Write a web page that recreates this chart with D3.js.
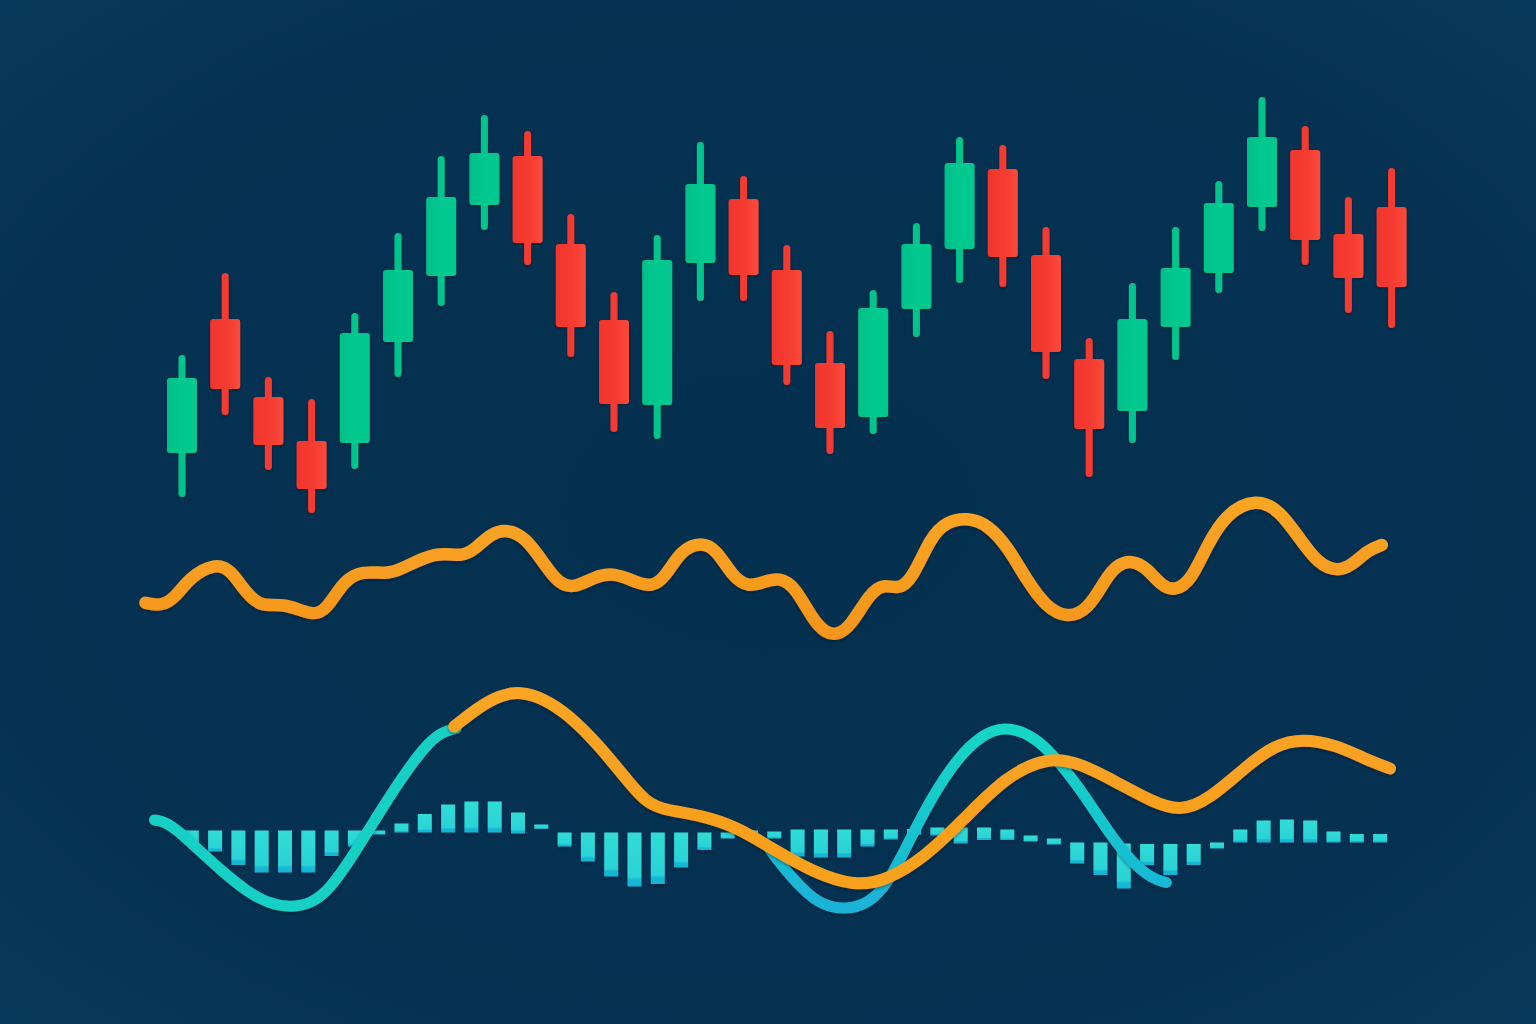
<!DOCTYPE html>
<html>
<head>
<meta charset="utf-8">
<script src="https://cdn.jsdelivr.net/npm/d3@7"></script>
<style>
  html, body { margin: 0; padding: 0; background: #05304f; }
  svg { display: block; }
</style>
</head>
<body>
<svg id="chart" width="1536" height="1024"></svg>
<script>
// ---------- DATA ----------
// Candles: open, high, low, close (price units)
const candleOpen  = [114.7,128.1,120.3,115.9,115.7,125.8,132.4,139.5,144.4,135.6,128.0,119.5,133.7,140.1,133.0,123.7,118.3,129.1,135.1,143.1,134.5,124.1,118.9,127.3,132.7,139.3,145.0,136.6,139.3];
const candleHigh  = [124.5,132.7,122.3,120.1,128.7,136.7,144.4,148.5,146.9,138.6,130.8,136.5,145.8,142.4,135.5,126.9,131.0,137.7,146.3,145.5,137.3,126.2,131.7,137.3,141.9,150.3,147.4,140.3,143.2];
const candleLow   = [110.3,118.5,113.0,108.7,113.1,122.3,129.4,137.0,133.5,124.3,116.8,116.1,129.9,129.9,121.5,114.6,116.6,126.3,131.7,131.3,122.1,112.3,115.7,124.0,130.7,136.9,133.5,128.7,127.2];
const candleClose = [122.2,121.1,115.5,111.1,126.7,133.0,140.3,144.7,135.7,127.3,119.6,134.0,141.6,132.5,123.5,117.2,129.2,135.6,143.7,134.3,124.8,117.1,128.1,133.2,139.7,146.3,136.0,132.2,131.3];

// Oscillator (session position, value 0-100)
const oscT = [-0.87,-0.50,-0.19,0.17,0.74,1.10,1.46,1.82,2.34,3.01,3.32,3.73,4.15,4.72,5.03,5.85,6.47,6.78,7.14,7.50,7.92,8.38,8.69,9.06,9.52,9.99,10.45,10.86,11.17,11.53,12.00,12.36,12.72,13.09,13.45,13.81,14.17,14.58,14.89,15.14,15.45,15.90,16.21,16.56,16.87,17.31,17.67,18.16,18.64,19.09,19.53,19.97,20.46,20.95,21.34,21.61,21.97,22.32,22.67,22.98,23.34,23.69,24.14,24.85,25.38,25.87,26.27,26.71,27.07,27.43,27.75];
const oscV = [31.8,30.0,34.3,46.3,53.7,50.4,37.1,29.3,31.8,24.4,27.8,44.4,49.6,47.8,50.0,60.7,57.1,62.1,70.4,72.6,68.5,52.8,42.6,39.8,46.3,48.5,43.5,40.4,46.3,61.1,65.7,61.1,46.3,40.4,43.5,45.9,40.7,22.2,14.8,13.9,18.5,37.1,42.2,39.3,44.4,68.5,76.8,79.3,75.0,62.9,44.4,29.6,23.2,27.8,44.4,52.8,55.6,50.9,40.7,38.5,44.4,62.9,81.5,89.8,83.3,66.7,53.7,49.1,52.8,61.1,63.9];

// MACD line (two visible stretches)
const macdT1 = [-0.66,-0.42,-0.09,0.33,0.91,1.48,1.98,2.48,2.97,3.39,3.97,4.63,5.21,5.70,6.03,6.32];
const macdV1 = [0.30,0.27,0.07,-0.27,-0.73,-1.13,-1.37,-1.45,-1.37,-1.10,-0.37,0.57,1.33,1.87,2.07,2.13];
const macdT2 = [13.55,13.80,14.35,14.78,15.33,15.88,16.31,16.75,17.29,17.95,18.50,18.99,19.59,20.13,20.79,21.44,21.99,22.43,22.76];
const macdV2 = [-0.24,-0.55,-1.10,-1.40,-1.50,-1.37,-0.97,-0.23,0.70,1.57,2.00,2.17,2.03,1.63,0.90,0.03,-0.57,-0.87,-0.95];

// Signal line
const signalT = [6.28,6.86,7.35,7.81,8.35,8.93,9.59,10.25,10.74,11.16,11.97,12.81,13.69,14.56,15.55,16.31,17.19,18.06,19.04,20.03,20.79,21.66,22.43,23.08,23.74,24.61,25.27,25.92,26.69,27.34,27.94];
const signalV = [2.17,2.57,2.80,2.87,2.73,2.40,1.83,1.13,0.63,0.50,0.40,0.17,-0.30,-0.73,-1.03,-0.90,-0.43,0.30,1.17,1.57,1.43,1.03,0.67,0.47,0.70,1.37,1.80,1.93,1.80,1.53,1.33];

// Histogram bars (upper and lower ends)
const histHigh = [0.09,0.09,0.09,0.09,0.09,0.09,0.09,0.09,0.09,0.23,0.42,0.61,0.67,0.67,0.45,0.21,0.05,0.05,0.05,0.05,0.05,0.05,0.05,0.05,0.09,0.07,0.11,0.11,0.11,0.11,0.11,0.12,0.15,0.15,0.15,0.11,-0.01,-0.07,-0.15,-0.15,-0.17,-0.18,-0.18,-0.18,-0.15,0.11,0.29,0.31,0.29,0.07,0.02,0.02];
const histLow  = [-0.20,-0.33,-0.60,-0.75,-0.75,-0.75,-0.42,-0.23,0.01,0.05,0.05,0.05,0.05,0.05,0.03,0.12,-0.23,-0.53,-0.83,-1.03,-0.98,-0.65,-0.30,-0.07,0.02,-0.07,-0.43,-0.45,-0.45,-0.23,-0.09,0.00,-0.01,-0.17,-0.10,-0.10,-0.13,-0.19,-0.57,-0.80,-1.07,-0.60,-0.80,-0.60,-0.27,-0.15,-0.15,-0.15,-0.15,-0.15,-0.15,-0.15];

// ---------- CHART ----------
const W = 1536, H = 1024;
const svg = d3.select("#chart");
const defs = svg.append("defs");

// background vignette
const bg = defs.append("radialGradient").attr("id","bg").attr("cx","50%").attr("cy","50%").attr("r","75%");
bg.append("stop").attr("offset","0%").attr("stop-color","#04304f");
bg.append("stop").attr("offset","70%").attr("stop-color","#053252");
bg.append("stop").attr("offset","100%").attr("stop-color","#0a3a5e");
svg.append("rect").attr("width",W).attr("height",H).attr("fill","url(#bg)");

function hGrad(id, stops) {
  const g = defs.append("linearGradient").attr("id", id).attr("x1","0").attr("x2","1").attr("y1","0").attr("y2","0");
  stops.forEach(s => g.append("stop").attr("offset", s[0]).attr("stop-color", s[1]));
}
hGrad("greenG", [["0%","#00c088"],["50%","#00c990"],["100%","#02c88f"]]);
hGrad("redG",   [["0%","#f2352d"],["55%","#f43b31"],["100%","#fb4a3a"]]);

const barG = defs.append("linearGradient").attr("id","barG").attr("x1","0").attr("x2","0").attr("y1","0").attr("y2","1");
[["0%","#30dcd6"],["82%","#2ad3d6"],["88%","#17b7d6"],["100%","#16b2d4"]].forEach(s => barG.append("stop").attr("offset",s[0]).attr("stop-color",s[1]));

function vGradUser(id, y1, y2, stops) {
  const g = defs.append("linearGradient").attr("id", id).attr("gradientUnits","userSpaceOnUse")
    .attr("x1",0).attr("x2",0).attr("y1",y1).attr("y2",y2);
  stops.forEach(s => g.append("stop").attr("offset", s[0]).attr("stop-color", s[1]));
}
vGradUser("oscG", 495, 640, [["0%","#fba623"],["100%","#f4951d"]]);
vGradUser("tealB", 725, 910, [["0%","#17d6c6"],["45%","#18c9cc"],["100%","#1ab2d8"]]);
vGradUser("sigG", 690, 890, [["0%","#fba523"],["60%","#f89f1f"],["100%","#f8a21f"]]);

const sh = defs.append("filter").attr("id","shadow").attr("x","-10%").attr("y","-10%").attr("width","120%").attr("height","130%");
sh.append("feDropShadow").attr("dx",0).attr("dy",1.5).attr("stdDeviation",1.5).attr("flood-color","#001528").attr("flood-opacity",0.45);

// Scales
const x = d3.scaleLinear().domain([0, 28]).range([182, 1391.6]);
const yPrice = d3.scaleLinear().domain([110, 150]).range([500, 100]);
const yOsc = d3.scaleLinear().domain([0, 100]).range([660, 480]);
const yMacd = d3.scaleLinear().domain([-2, 2]).range([935, 735]);
const xBar = d3.scaleBand().domain(d3.range(histHigh.length)).range([180.15, 1391.75]).paddingInner(0.4).paddingOuter(0.2);
const xl = d3.scaleLinear().domain([0, 28]).range([183, 1392.6]); // line/time positions

// Candles
const candles = candleOpen.map((o, i) => ({i, o, h: candleHigh[i], l: candleLow[i], c: candleClose[i]}));
const bodyW = 30, wickW = 7;
const cg = svg.append("g").attr("filter","url(#shadow)");
const cands = cg.selectAll("g.candle").data(candles).join("g").attr("class","candle");
cands.append("rect")
  .attr("x", d => x(d.i) - wickW/2).attr("width", wickW)
  .attr("y", d => yPrice(d.h)).attr("height", d => yPrice(d.l) - yPrice(d.h))
  .attr("rx", 3.5)
  .attr("fill", d => d.c >= d.o ? "#01c48c" : "#f33a30");
cands.append("rect")
  .attr("x", d => x(d.i) - bodyW/2).attr("width", bodyW)
  .attr("y", d => yPrice(Math.max(d.o, d.c))).attr("height", d => Math.abs(yPrice(d.o) - yPrice(d.c)))
  .attr("rx", 3)
  .attr("fill", d => d.c >= d.o ? "url(#greenG)" : "url(#redG)");

// Oscillator line
const curve = d3.curveBasis;
const oscLine = d3.line().x(d => xl(d[0])).y(d => yOsc(d[1])).curve(curve);
svg.append("path").datum(oscT.map((t, i) => [t, oscV[i]]))
  .attr("d", oscLine).attr("fill","none").attr("stroke","url(#oscG)")
  .attr("stroke-width", 12.5).attr("stroke-linecap","round").attr("stroke-linejoin","round")
  .attr("filter","url(#shadow)");

// Histogram
svg.append("g").selectAll("rect").data(histHigh.map((h, k) => ({k, h, l: histLow[k]}))).join("rect")
  .attr("x", d => xBar(d.k)).attr("width", xBar.bandwidth())
  .attr("y", d => yMacd(d.h)).attr("height", d => Math.max(3, yMacd(d.l) - yMacd(d.h)))
  .attr("fill","url(#barG)").attr("filter","url(#shadow)");

// MACD & signal lines
const mLine = d3.line().x(d => xl(d[0])).y(d => yMacd(d[1])).curve(curve);
svg.append("path").datum(macdT1.map((t, i) => [t, macdV1[i]]))
  .attr("d", mLine).attr("fill","none").attr("stroke","#15d0c6")
  .attr("stroke-width", 11).attr("stroke-linecap","round").attr("stroke-linejoin","round")
  .attr("filter","url(#shadow)");
svg.append("path").datum(macdT2.map((t, i) => [t, macdV2[i]]))
  .attr("d", mLine).attr("fill","none").attr("stroke","url(#tealB)")
  .attr("stroke-width", 11).attr("stroke-linecap","round").attr("stroke-linejoin","round")
  .attr("filter","url(#shadow)");
svg.append("path").datum(signalT.map((t, i) => [t, signalV[i]]))
  .attr("d", mLine).attr("fill","none").attr("stroke","url(#sigG)")
  .attr("stroke-width", 12).attr("stroke-linecap","round").attr("stroke-linejoin","round")
  .attr("filter","url(#shadow)");
</script>
</body>
</html>
